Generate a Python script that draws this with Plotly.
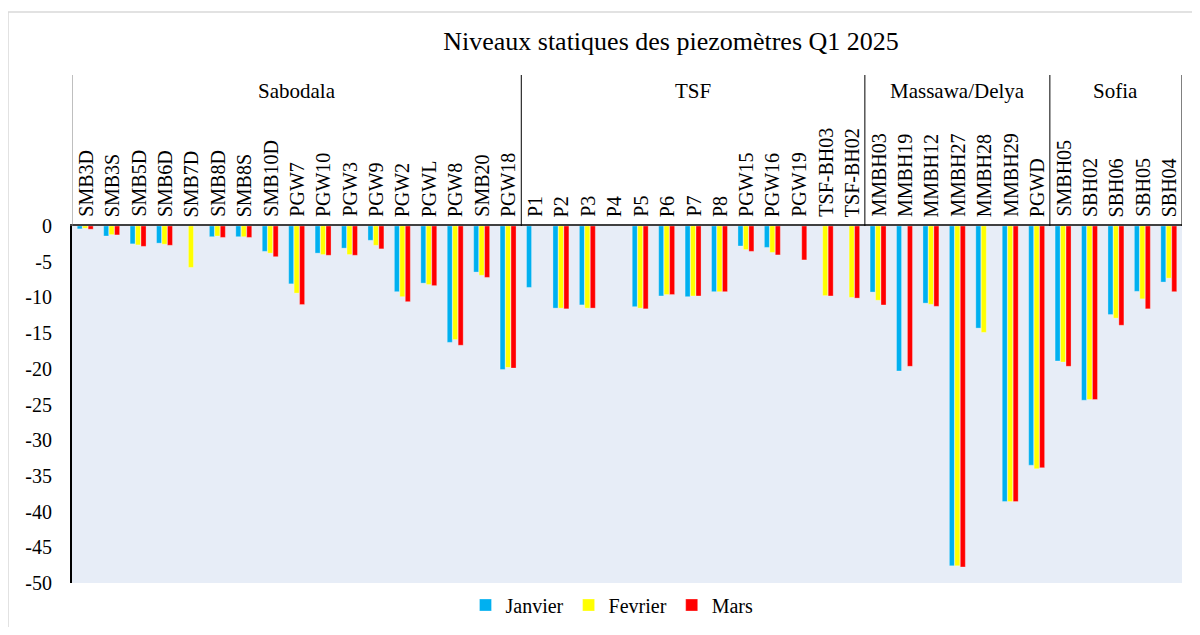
import plotly.graph_objects as go

categories = ["SMB3D", "SMB3S", "SMB5D", "SMB6D", "SMB7D", "SMB8D", "SMB8S", "SMB10D",
              "PGW7", "PGW10", "PGW3", "PGW9", "PGW2", "PGWL", "PGW8", "SMB20", "PGW18",
              "P1", "P2", "P3", "P4", "P5", "P6", "P7", "P8", "PGW15", "PGW16", "PGW19",
              "TSF-BH03", "TSF-BH02",
              "MMBH03", "MMBH19", "MMBH12", "MMBH27", "MMBH28", "MMBH29", "PGWD",
              "SMBH05", "SBH02", "SBH06", "SBH05", "SBH04"]

groups = ["Sabodala", "TSF", "Massawa/Delya", "Sofia"]
group_sizes = [17, 13, 7, 5]

janvier = [-0.4, -1.4, -2.5, -2.4, None, -1.5, -1.5, -3.55,
           -8.1, -3.8, -3.1, -2.0, -9.2, -8.0, -16.3, -6.45, -20.1,
           -8.6, -11.5, -11.05, None, -11.3, -9.8, -9.9, -9.2, -2.8, -3.0, None,
           None, None,
           -9.25, -20.3, -10.8, -47.6, -14.3, -38.6, -33.5,
           -18.9, -24.4, -12.4, -9.15, -7.85]
fevrier = [-0.3, -1.2, -2.65, -2.55, -5.8, -1.4, -1.5, -3.8,
           -9.4, -4.0, -4.0, -2.7, -9.9, -8.2, -15.9, -6.9, -19.8,
           None, -11.5, -11.5, None, -11.5, -9.6, -9.8, -9.2, -3.3, -3.7, None,
           -9.75, -10.0,
           -10.4, None, -10.97, -47.6, -14.9, -38.6, -34.0,
           -19.05, -24.3, -12.9, -10.2, -7.3]
mars = [-0.45, -1.25, -2.85, -2.7, None, -1.6, -1.6, -4.3,
        -11.0, -4.1, -4.1, -3.2, -10.6, -8.35, -16.7, -7.2, -19.9,
        None, -11.6, -11.5, None, -11.6, -9.6, -9.8, -9.2, -3.55, -4.05, -4.75,
        -9.8, -10.1,
        -11.06, -19.65, -11.25, -47.75, None, -38.6, -33.85,
        -19.65, -24.3, -13.9, -11.6, -9.2]

series_names = ["Janvier", "Fevrier", "Mars"]
colors = ["#00B0F0", "#FFFF00", "#FF0000"]
y_ticks = [0, -5, -10, -15, -20, -25, -30, -35, -40, -45, -50]

FONT = "Liberation Serif, Times New Roman, serif"

# the page body adds an 8px offset; work in screen pixels and subtract it
OFF = 8
W, H = 1200 - 2 * OFF, 635 - 2 * OFF

fig = go.Figure()
for name, vals, col in zip(series_names, [janvier, fevrier, mars], colors):
    fig.add_trace(go.Bar(x=categories, y=vals, name=name, marker_color=col,
                         marker_line=dict(color="rgba(255,255,255,0.6)", width=0.5)))

# screen-pixel plot area: x 72..1182, y 226..583
L, R, T, B = 72, 1182, 226, 583
def py(p):
    return (B - p) / (B - T)
def px(p):
    return (p - L) / (R - L)

annotations = []
for c in categories:
    annotations.append(dict(x=c, y=py(219), xref="x", yref="paper", text=c,
                            textangle=-90, showarrow=False, yanchor="bottom",
                            xanchor="center",
                            font=dict(family=FONT, size=20, color="#000")))

shapes = []
start = 0
bounds = [-0.5]
for g, n in zip(groups, group_sizes):
    mid = start + (n - 1) / 2
    annotations.append(dict(x=mid, y=py(91), xref="x", yref="paper", text=g,
                            showarrow=False, xanchor="center", yanchor="middle",
                            font=dict(family=FONT, size=21, color="#000")))
    start += n
    bounds.append(start - 0.5)
for i, b in enumerate(bounds):
    shapes.append(dict(type="line", xref="x", yref="paper", x0=b, x1=b,
                       y0=1, y1=py(75),
                       line=dict(color="#808080" if i == 0 else "#000", width=1)))

# outer chart border
shapes.append(dict(type="rect", xref="paper", yref="paper",
                   x0=px(8), x1=px(1196), y0=py(640), y1=py(12),
                   line=dict(color="#D9D9D9", width=1.5), fillcolor="rgba(0,0,0,0)",
                   layer="below"))

fig.update_layout(
    width=W, height=H,
    margin=dict(l=L - OFF, r=(1200 - OFF) - R, t=T - OFF, b=(635 - OFF) - B,
                autoexpand=False),
    paper_bgcolor="white",
    plot_bgcolor="#E7EDF7",
    barmode="group",
    bargap=0.38,
    bargroupgap=0.08,
    title=dict(text="Niveaux statiques des piezomètres Q1 2025",
               x=(671 - OFF) / W, xanchor="center", y=1 - (41 - OFF) / H,
               yanchor="middle",
               font=dict(family=FONT, size=26, color="#000")),
    font=dict(family=FONT, size=20, color="#000"),
    showlegend=True,
    legend=dict(orientation="h", x=px(612), xanchor="center", y=py(605),
                yanchor="middle", font=dict(family=FONT, size=20, color="#000"),
                bgcolor="rgba(0,0,0,0)", itemwidth=30, tracegroupgap=0),
    annotations=annotations,
    shapes=shapes,
    xaxis=dict(type="category", side="top", showticklabels=False, ticks="",
               showgrid=False, showline=True, linecolor="#404040", linewidth=1.5,
               zeroline=False, range=[-0.5, len(categories) - 0.5]),
    yaxis=dict(range=[-50, 0], tickvals=y_ticks, ticktext=[str(v) for v in y_ticks],
               showgrid=False, zeroline=False, showline=True, linecolor="#000",
               linewidth=2, ticks="", ticklabelstandoff=14,
               tickfont=dict(family=FONT, size=20, color="#000")),
)

fig.write_html("out.html")
